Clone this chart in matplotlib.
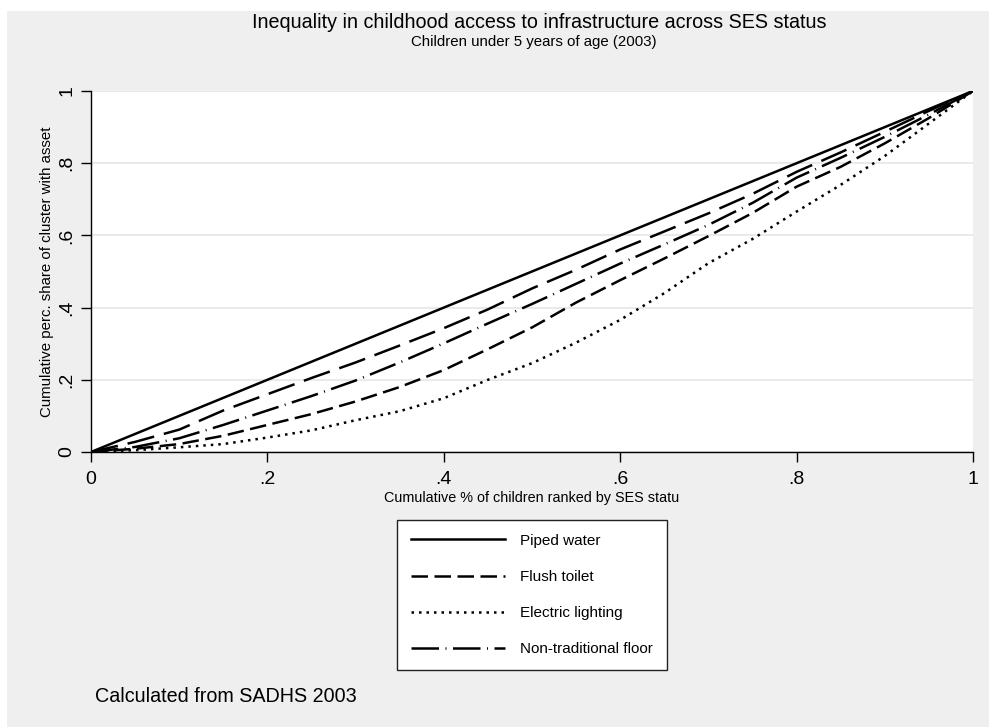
import numpy as np
import matplotlib.pyplot as plt
from matplotlib.patches import Rectangle

plt.rcParams['font.family'] = ['Liberation Sans', 'DejaVu Sans']

# cumulative share of children ranked by SES
x = [0, .05, .1, .15, .2, .25, .3, .35, .4, .45, .5,
     .55, .6, .65, .7, .75, .8, .85, .9, .95, 1]

piped_x = [0, 1]
piped_y = [0, 1]
flush = [0, .009, .022, .045, .075, .105, .14, .18, .227, .285, .345,
         .414, .476, .536, .598, .662, .735, .79, .855, .925, 1]
electric = [0, .005, .013, .022, .04, .06, .088, .113, .149, .2, .246,
            .303, .366, .44, .523, .59, .666, .74, .82, .91, 1]
floor = [0, .014, .038, .075, .115, .155, .198, .248, .301, .356, .41,
         .466, .522, .575, .629, .69, .76, .815, .873, .935, 1]
fifth = [0, .028, .062, .115, .16, .205, .248, .295, .343, .395, .453,
         .505, .561, .611, .661, .715, .776, .83, .887, .945, 1]

ticks = [0, .2, .4, .6, .8, 1]
ticklabels = ['0', '.2', '.4', '.6', '.8', '1']

fig = plt.figure(figsize=(9.89, 7.27), dpi=100)
fig.patch.set_facecolor('white')
fig.patches.append(Rectangle((7/989, 0.0), 1, 1 - 11/727, transform=fig.transFigure,
                             facecolor='#efefef', edgecolor='none', zorder=-10))

ax = fig.add_axes([91/989, 1 - 452/727, 882/989, 361/727])
ax.set_facecolor('white')

lw = 1.8
ax.plot(piped_x, piped_y, color='black', lw=lw, label='Piped water')
ax.plot(x, flush, color='black', lw=lw, dashes=(6.6, 2.6), label='Flush toilet')
ax.plot(x, electric, color='black', lw=lw, dashes=(1, 2), label='Electric lighting')
ax.plot(x, floor, color='black', lw=lw, dashes=(11, 2.6, 0.4, 2.6), label='Non-traditional floor')
ax.plot(x, fifth, color='black', lw=lw, dashes=(11, 4), label='_nolegend_')

ax.set_xlim(0, 1)
ax.set_ylim(0, 1)
ax.set_xticks(ticks)
ax.set_xticklabels(ticklabels, fontsize=14)
ax.set_yticks(ticks)
ax.set_yticklabels(ticklabels, fontsize=14, rotation=90, va='center')
ax.tick_params(direction='out', length=7, width=1, color='black')
ax.tick_params(axis='x', pad=7)
ax.tick_params(axis='y', pad=4.3)
ax.grid(axis='y', color='#e6e6e6', lw=1.2)
ax.set_axisbelow(True)
for s in ['top', 'right']:
    ax.spines[s].set_visible(False)
for s in ['left', 'bottom']:
    ax.spines[s].set_color('black')
    ax.spines[s].set_linewidth(1)

ax.set_xlabel('Cumulative % of children ranked by SES statu', fontsize=10.4, labelpad=1.5)
ax.set_ylabel('Cumulative perc. share of cluster with asset', fontsize=10.8, labelpad=3)

fig.text(0.545, 1 - 22/727, 'Inequality in childhood access to infrastructure across SES status',
         ha='center', va='center', fontsize=14.2)
fig.text(0.540, 1 - 42/727, 'Children under 5 years of age (2003)',
         ha='center', va='center', fontsize=10.8)
fig.text(95/989, 1 - 697/727, 'Calculated from SADHS 2003', ha='left', va='center', fontsize=14.2)

leg = fig.legend(loc='center', bbox_to_anchor=(532/989, 1 - 595/727), ncol=1,
                 fontsize=11, handlelength=6.15, labelspacing=1.45, borderpad=0.9,
                 handletextpad=1.0, fancybox=False, frameon=True)
leg.get_frame().set_edgecolor('#222222')
leg.get_frame().set_linewidth(1)
leg.get_frame().set_facecolor('white')
leg.get_frame().set_alpha(1)

fig.savefig('out.png', dpi=100, facecolor=fig.get_facecolor())
